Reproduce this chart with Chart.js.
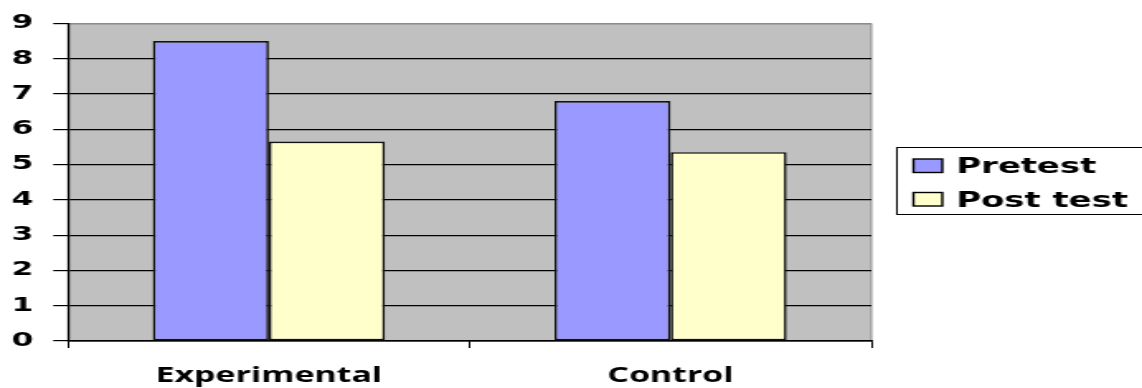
<!DOCTYPE html>
<html>
<head>
<meta charset="utf-8">
<script src="https://cdn.jsdelivr.net/npm/chart.js@4.4.1/dist/chart.umd.min.js"></script>
<style>
  html, body { margin: 0; padding: 0; background: #ffffff; overflow: hidden; }
  #wrap { width: 692px; height: 388px; transform-origin: 0 0; transform: scaleX(1.6503); }
  canvas { display: block; }
</style>
</head>
<body>
<div id="wrap"><canvas id="c" width="692" height="388"></canvas></div>
<script>
// Group names along the x axis
const categories = ['Experimental', 'Control'];
// Mean scores per group
const pretestScores = [8.5, 6.8];
const posttestScores = [5.65, 5.35];
// Series names shown in the legend
const seriesNames = ['Pretest', 'Post test'];
// Value axis range and step
const yMin = 0, yMax = 9, yStep = 1;

const seriesColors = ['#9999FF', '#FFFFCC'];

// Grey plot area with a thin frame
const plotBackground = {
  id: 'plotBackground',
  beforeDraw(chart) {
    const { ctx, chartArea: a } = chart;
    ctx.save();
    ctx.fillStyle = '#C0C0C0';
    ctx.fillRect(a.left, a.top, a.right - a.left, a.bottom - a.top);
    ctx.strokeStyle = '#8c8c8c';
    ctx.lineWidth = 1;
    ctx.strokeRect(a.left, a.top + 0.5, a.right - a.left, a.bottom - a.top);
    ctx.restore();
  }
};

// Boxed legend to the right of the plot
const boxedLegend = {
  id: 'boxedLegend',
  afterDraw(chart) {
    const { ctx } = chart;
    const boxLeft = 543, boxTop = 147, boxBottom = 214;
    ctx.save();
    ctx.fillStyle = '#ffffff';
    ctx.fillRect(boxLeft, boxTop, 200, boxBottom - boxTop);
    ctx.strokeStyle = '#000000';
    ctx.lineWidth = 1;
    ctx.strokeRect(boxLeft + 0.5, boxTop + 0.5, 200, boxBottom - boxTop);
    const baselines = [173, 206.5];
    ctx.font = 'bold 20.5px "DejaVu Sans"';
    ctx.textBaseline = 'alphabetic';
    ctx.textAlign = 'left';
    chart.data.datasets.forEach((ds, i) => {
      const b = baselines[i];
      ctx.fillStyle = ds.backgroundColor;
      ctx.fillRect(553.5, b - 14, 17.5, 13.5);
      ctx.strokeStyle = '#000000';
      ctx.lineWidth = 1.4;
      ctx.strokeRect(553.5, b - 14, 17.5, 13.5);
      ctx.fillStyle = '#000000';
      ctx.fillText(ds.label, 579.5, b);
    });
    ctx.restore();
  }
};

new Chart(document.getElementById('c'), {
  type: 'bar',
  data: {
    labels: categories,
    datasets: [
      {
        label: seriesNames[0],
        data: pretestScores,
        backgroundColor: seriesColors[0],
        borderColor: '#111111',
        borderWidth: 1.6,
        borderSkipped: false,
        categoryPercentage: 0.578,
        barPercentage: 1.0
      },
      {
        label: seriesNames[1],
        data: posttestScores,
        backgroundColor: seriesColors[1],
        borderColor: '#111111',
        borderWidth: 1.6,
        borderSkipped: false,
        categoryPercentage: 0.578,
        barPercentage: 1.0
      }
    ]
  },
  options: {
    responsive: false,
    animation: false,
    devicePixelRatio: 1,
    layout: { padding: { left: 0, top: 21.5, right: 164, bottom: 0 } },
    plugins: {
      legend: { display: false },
      tooltip: { enabled: false }
    },
    scales: {
      x: {
        offset: true,
        grid: {
          offset: true,
          drawOnChartArea: false,
          drawTicks: true,
          tickLength: 7,
          color: '#000000',
          lineWidth: 1
        },
        border: { display: true, color: '#000000', width: 1.2 },
        ticks: {
          color: '#000000',
          padding: 16,
          font: { family: '"Open Sans"', weight: 'bold', size: 20.5 }
        },
        afterFit(scale) { scale.height = 47; }
      },
      y: {
        min: yMin,
        max: yMax,
        ticks: {
          stepSize: yStep,
          color: '#000000',
          padding: 12,
          font: { family: '"DejaVu Sans"', weight: 'bold', size: 19 }
        },
        grid: {
          color: (c) => (c.tick && c.tick.value === yMax ? '#8c8c8c' : '#000000'),
          tickColor: '#000000',
          lineWidth: 1.2,
          drawTicks: true,
          tickLength: 9
        },
        border: { display: true, color: '#000000', width: 1.2 },
        afterFit(scale) { scale.width = 41.2; }
      }
    }
  },
  plugins: [plotBackground, boxedLegend]
});
</script>
</body>
</html>
